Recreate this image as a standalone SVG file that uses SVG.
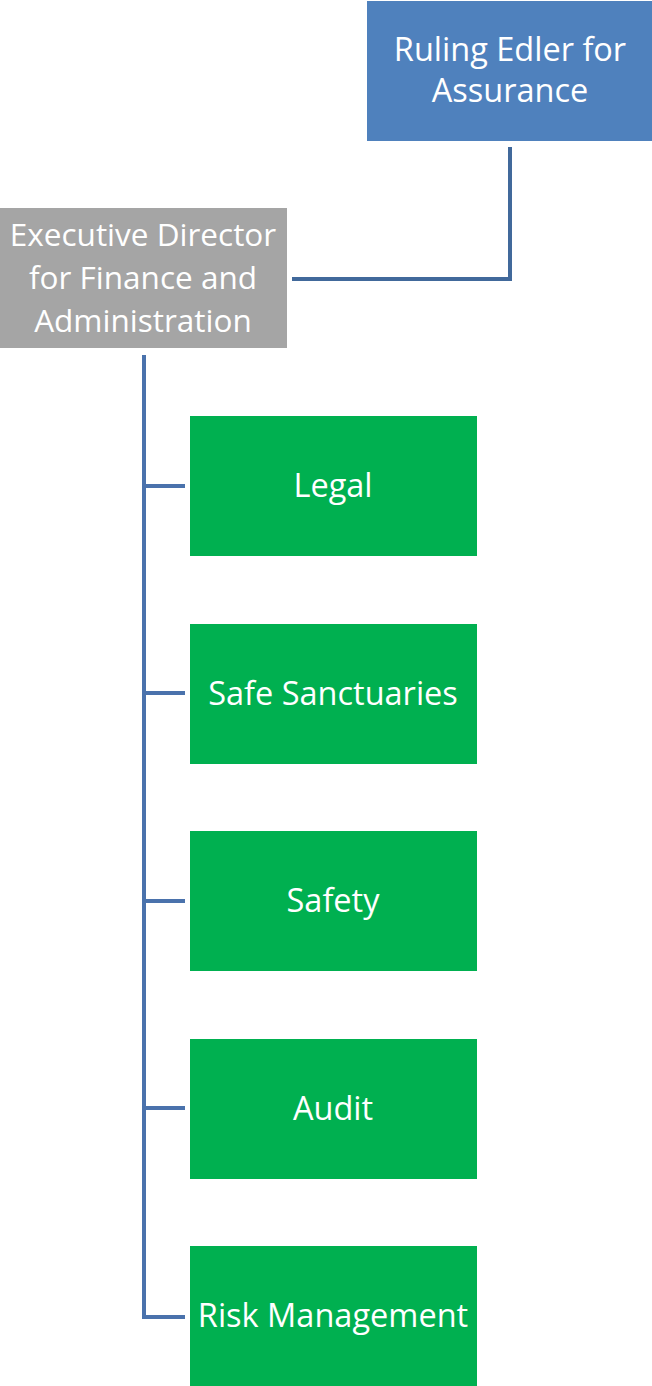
<svg xmlns="http://www.w3.org/2000/svg" width="652" height="1386" viewBox="0 0 652 1386">
<style>
.t{font-family:"Open Sans","Noto Sans",sans-serif;font-size:32.5px;fill:#fff;text-anchor:middle;dominant-baseline:central}
.s{font-size:31.5px}
.c{fill:none;stroke-width:4;stroke-linejoin:miter}
</style>
<rect width="652" height="1386" fill="#fff"/>
<g id="connectors">
<path class="c" d="M510,147 V279 H292" stroke="#41699B"/>
<path class="c" d="M144,355 V1317 H185 M144,486 H185 M144,693 H185 M144,901 H185 M144,1108 H185" stroke="#4A72AC"/>
</g>
<g id="ruling-elder">
<rect x="367" y="1" width="285" height="140" fill="#4F81BD"/>
<text class="t"><tspan x="510" y="48">Ruling Edler for</tspan><tspan x="510" y="89">Assurance</tspan></text>
</g>
<g id="exec-director">
<rect x="0" y="208" width="287" height="140" fill="#A5A5A5"/>
<text class="t s"><tspan x="143" y="233">Executive Director</tspan><tspan x="143" y="276">for Finance and</tspan><tspan x="143" y="319">Administration</tspan></text>
</g>
<g id="legal"><rect x="190" y="416" width="287" height="140" fill="#00B050"/><text class="t" x="333" y="484">Legal</text></g>
<g id="safe-sanctuaries"><rect x="190" y="624" width="287" height="140" fill="#00B050"/><text class="t" x="333" y="692">Safe Sanctuaries</text></g>
<g id="safety"><rect x="190" y="831" width="287" height="140" fill="#00B050"/><text class="t" x="333" y="899">Safety</text></g>
<g id="audit"><rect x="190" y="1039" width="287" height="140" fill="#00B050"/><text class="t" x="333" y="1107">Audit</text></g>
<g id="risk-management"><rect x="190" y="1246" width="287" height="140" fill="#00B050"/><text class="t" x="333" y="1314">Risk Management</text></g>
</svg>
